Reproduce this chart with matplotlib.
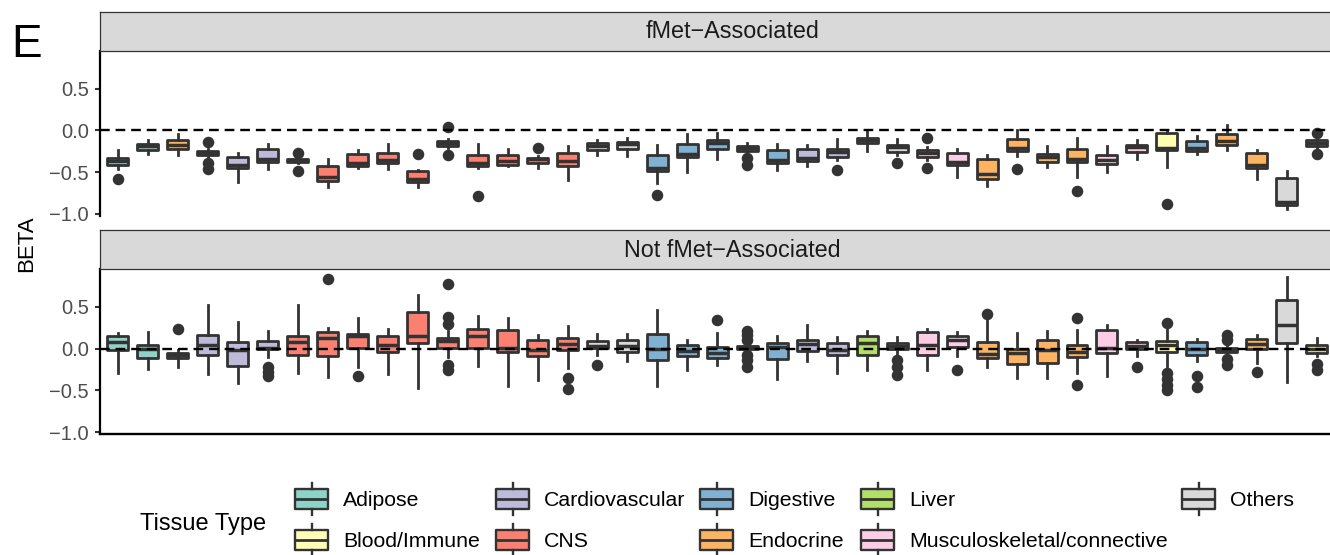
import matplotlib.pyplot as plt
from matplotlib.patches import Rectangle
import numpy as np

plt.rcParams['font.family'] = ['Liberation Sans', 'DejaVu Sans']

# tissue type of each box, left to right (same order in both facets)
tissue_type = ["Adipose", "Adipose", "Endocrine",
               "Cardiovascular", "Cardiovascular", "Cardiovascular",
               "CNS", "CNS", "CNS", "CNS", "CNS", "CNS", "CNS", "CNS", "CNS", "CNS",
               "Others", "Others",
               "Digestive", "Digestive", "Digestive", "Digestive", "Digestive",
               "Cardiovascular", "Cardiovascular", "Liver", "Others",
               "Musculoskeletal/connective", "Musculoskeletal/connective",
               "Endocrine", "Endocrine", "Endocrine", "Endocrine",
               "Musculoskeletal/connective", "Musculoskeletal/connective",
               "Blood/Immune", "Digestive", "Endocrine", "Endocrine", "Others",
               "Blood/Immune"]

legend_labels = ["Adipose", "Blood/Immune", "Cardiovascular", "CNS", "Digestive",
                 "Endocrine", "Liver", "Musculoskeletal/connective", "Others"]
legend_colors = ["#8DD3C7", "#FFFFB3", "#BEBADA", "#FB8072", "#80B1D3",
                 "#FDB462", "#B3DE69", "#FCCDE5", "#D9D9D9"]
palette = dict(zip(legend_labels, legend_colors))

facets = ["fMet\u2212Associated", "Not fMet\u2212Associated"]

# fMet-associated box stats
fmet_q1 = [-0.41, -0.23, -0.22, -0.29, -0.45, -0.38, -0.38, -0.60, -0.43, -0.39,
           -0.62, -0.19, -0.43, -0.41, -0.39, -0.43, -0.24, -0.22, -0.49, -0.32,
           -0.22, -0.25, -0.39, -0.37, -0.32, -0.15, -0.26, -0.32, -0.42, -0.58,
           -0.25, -0.38, -0.38, -0.40, -0.26, -0.24, -0.25, -0.18, -0.45, -0.89,
           -0.19]
fmet_med = [-0.37, -0.19, -0.18, -0.27, -0.41, -0.34, -0.36, -0.56, -0.39, -0.35,
            -0.58, -0.15, -0.39, -0.37, -0.345, -0.37, -0.185, -0.165, -0.45, -0.28,
            -0.155, -0.205, -0.35, -0.33, -0.26, -0.11, -0.20, -0.265, -0.38, -0.52,
            -0.21, -0.32, -0.34, -0.36, -0.20, -0.21, -0.21, -0.13, -0.41, -0.86,
            -0.15]
fmet_q3 = [-0.33, -0.165, -0.11, -0.245, -0.32, -0.22, -0.34, -0.43, -0.285, -0.27,
           -0.49, -0.125, -0.29, -0.29, -0.325, -0.27, -0.15, -0.14, -0.29, -0.16,
           -0.12, -0.185, -0.24, -0.22, -0.22, -0.085, -0.17, -0.23, -0.265, -0.34,
           -0.10, -0.28, -0.22, -0.29, -0.17, -0.03, -0.125, -0.045, -0.265, -0.575,
           -0.12]
fmet_lo = [-0.46, -0.285, -0.29, -0.32, -0.62, -0.46, -0.39, -0.68, -0.45, -0.46,
           -0.68, -0.21, -0.455, -0.43, -0.45, -0.59, -0.30, -0.31, -0.63, -0.50,
           -0.34, -0.27, -0.47, -0.43, -0.36, -0.245, -0.30, -0.36, -0.56, -0.67,
           -0.31, -0.44, -0.56, -0.50, -0.34, -0.44, -0.28, -0.24, -0.58, -0.94,
           -0.22]
fmet_hi = [-0.24, -0.11, -0.04, -0.22, -0.265, -0.16, -0.33, -0.345, -0.24, -0.16,
           -0.47, -0.10, -0.165, -0.22, -0.31, -0.19, -0.11, -0.085, -0.18, -0.045,
           -0.035, -0.15, -0.16, -0.17, -0.105, 0.0, -0.105, -0.20, -0.22, -0.30,
           0.01, -0.19, -0.09, -0.19, -0.115, 0.01, -0.07, 0.07, -0.23, -0.49,
           -0.10]
fmet_out = [[-0.58], [], [], [-0.14, -0.39, -0.46], [], [], [-0.27, -0.49], [], [], [],
            [-0.28], [0.04, -0.30], [-0.78], [], [-0.205], [], [], [], [-0.77], [],
            [], [-0.33, -0.41], [], [], [-0.47], [], [-0.39], [-0.09, -0.45], [], [],
            [-0.46], [], [-0.72], [], [], [-0.88], [], [], [], [],
            [-0.03, -0.28]]

# not fMet-associated box stats
other_q1 = [-0.015, -0.11, -0.115, -0.07, -0.205, -0.005, -0.08, -0.09, 0.005, -0.035,
            0.065, 0.01, 0.005, -0.045, -0.085, -0.02, 0.01, -0.045, -0.13, -0.085,
            -0.11, -0.005, -0.125, -0.025, -0.075, -0.075, -0.005, -0.075, 0.025, -0.11,
            -0.18, -0.165, -0.105, -0.055, -0.005, -0.035, -0.07, -0.035, -0.005, 0.065,
            -0.05]
other_med = [0.08, 0.0, -0.08, 0.05, -0.02, 0.01, 0.08, 0.13, 0.15, 0.04,
             0.15, 0.09, 0.15, 0.01, -0.01, 0.06, 0.035, 0.03, 0.0, -0.03,
             -0.05, 0.015, 0.02, 0.06, -0.01, 0.07, 0.03, 0.05, 0.10, -0.06,
             -0.05, -0.01, -0.04, 0.01, 0.03, 0.04, 0.0, -0.015, 0.06, 0.28,
             0.0]
other_q3 = [0.155, 0.045, -0.05, 0.17, 0.08, 0.09, 0.155, 0.20, 0.18, 0.15,
            0.445, 0.13, 0.24, 0.22, 0.11, 0.13, 0.09, 0.10, 0.18, 0.04,
            0.02, 0.03, 0.07, 0.105, 0.065, 0.15, 0.065, 0.20, 0.15, 0.08,
            0.0, 0.11, 0.05, 0.23, 0.08, 0.09, 0.085, 0.005, 0.12, 0.58,
            0.04]
other_lo = [-0.29, -0.245, -0.22, -0.30, -0.41, -0.10, -0.285, -0.34, -0.22, -0.30,
            -0.465, -0.10, -0.21, -0.445, -0.37, -0.23, -0.07, -0.15, -0.445, -0.25,
            -0.20, -0.03, -0.365, -0.15, -0.29, -0.25, -0.06, -0.25, -0.09, -0.22,
            -0.35, -0.35, -0.29, -0.33, -0.09, -0.25, -0.15, -0.07, -0.17, -0.40,
            -0.09]
other_hi = [0.19, 0.20, -0.02, 0.52, 0.315, 0.215, 0.52, 0.25, 0.365, 0.235,
            0.64, 0.21, 0.395, 0.365, 0.17, 0.27, 0.18, 0.18, 0.46, 0.11,
            0.19, 0.05, 0.155, 0.285, 0.135, 0.215, 0.135, 0.235, 0.195, 0.35,
            0.19, 0.215, 0.23, 0.28, 0.11, 0.25, 0.12, 0.03, 0.165, 0.86,
            0.125]
other_out = [[], [], [0.235], [], [], [-0.22, -0.28, -0.33], [], [0.84], [-0.33], [],
             [], [0.77, 0.38, 0.30, -0.19, -0.26], [], [], [], [-0.35, -0.48], [-0.195], [], [], [],
             [0.34], [0.21, 0.16, 0.10, -0.08, -0.14, -0.22], [], [], [], [], [-0.14, -0.22, -0.32], [], [-0.25], [0.42],
             [], [], [0.37, -0.44], [], [-0.22], [0.31, -0.29, -0.36, -0.43, -0.50], [-0.33, -0.46], [0.17, 0.10, -0.12, -0.20], [-0.28], [],
             [-0.18, -0.26]]

EDGE = "#333333"
W, H = 1330, 555

fig = plt.figure(figsize=(W / 100, H / 100), dpi=100)


def px_box(x0, y0, x1, y1):
    # pixel box (top-left origin) -> figure fraction rect
    return [x0 / W, 1 - y1 / H, (x1 - x0) / W, (y1 - y0) / H]


PANEL_L, PANEL_R = 100, 1364.7
panels = [(11.7, 50.7, 216.0), (230.0, 269.0, 434.3)]
series = [(fmet_q1, fmet_med, fmet_q3, fmet_lo, fmet_hi, fmet_out),
          (other_q1, other_med, other_q3, other_lo, other_hi, other_out)]

for k, ((s_top, p_top, p_bot), data) in enumerate(zip(panels, series)):
    ax = fig.add_axes(px_box(PANEL_L, p_top, PANEL_R, p_bot))
    q1, med, q3, lo, hi, out = data
    stats = [dict(q1=q1[i], med=med[i], q3=q3[i], whislo=lo[i], whishi=hi[i], fliers=out[i])
             for i in range(len(med))]
    pos = np.arange(1, len(med) + 1)
    bp = ax.bxp(stats, positions=pos, widths=0.7, patch_artist=True, showcaps=False,
                boxprops=dict(edgecolor=EDGE, linewidth=2.0, joinstyle='round'),
                medianprops=dict(color=EDGE, linewidth=2.5, solid_capstyle='butt'),
                whiskerprops=dict(color=EDGE, linewidth=2.0),
                flierprops=dict(marker='o', markerfacecolor=EDGE, markeredgecolor=EDGE,
                                markersize=7.3))
    for patch, t in zip(bp['boxes'], tissue_type):
        patch.set_facecolor(palette[t])
    ax.axhline(0, color='black', lw=1.7, ls=(0, (4.1, 2.5)), zorder=6)

    ax.set_xlim(0.4, 42.6)
    ax.set_ylim(-1.025, 0.955)
    ax.set_yticks([-1.0, -0.5, 0.0, 0.5])
    ax.tick_params(axis='y', length=3.6, width=1.5, color=EDGE, labelsize=14.5,
                   labelcolor='#4D4D4D', pad=4.5)
    ax.tick_params(axis='x', bottom=False, labelbottom=False)
    for side in ('top', 'right'):
        ax.spines[side].set_visible(False)
    ax.spines['left'].set_linewidth(1.6)
    ax.spines['bottom'].set_linewidth(1.7)
    if k == 0:
        ax.spines['bottom'].set_visible(False)

    # facet strip
    sx = fig.add_axes(px_box(PANEL_L, s_top, PANEL_R, p_top))
    sx.set_facecolor('#D9D9D9')
    sx.set_xticks([])
    sx.set_yticks([])
    for sp in sx.spines.values():
        sp.set_color(EDGE)
        sp.set_linewidth(0.9)
    sx.text(0.5, 0.315, facets[k], transform=sx.transAxes, ha='center', va='baseline',
            fontsize=16.8, color='#1A1A1A')

# labels and legend drawn in pixel space
ov = fig.add_axes([0, 0, 1, 1], zorder=-1)
ov.set_xlim(0, W)
ov.set_ylim(H, 0)
ov.axis('off')

ov.text(11, 57, "E", fontsize=33, ha='left', va='baseline')
ov.text(26.5, 244, "BETA", rotation=90, ha='center', va='center', fontsize=16)

ov.text(140, 530, "Tissue Type", fontsize=17, ha='left', va='baseline')
col_x = [295, 496, 700, 861, 1182]
row_y = [499, 539.5]
for i, (lab, col) in enumerate(zip(legend_labels, legend_colors)):
    gx = col_x[i // 2]
    yc = row_y[i % 2]
    ov.add_patch(Rectangle((gx, yc - 10), 33, 20, facecolor=col, edgecolor=EDGE,
                           linewidth=1.7, joinstyle='round'))
    ov.plot([gx, gx + 33], [yc, yc], color=EDGE, lw=2.0, solid_capstyle='butt')
    ov.plot([gx + 16.5, gx + 16.5], [yc - 10, yc - 16], color=EDGE, lw=1.7)
    ov.plot([gx + 16.5, gx + 16.5], [yc + 10, yc + 16], color=EDGE, lw=1.7)
    ov.text(gx + 48, yc + 7.5, lab, fontsize=15.3, ha='left', va='baseline')

fig.savefig("out.png", dpi=100)
